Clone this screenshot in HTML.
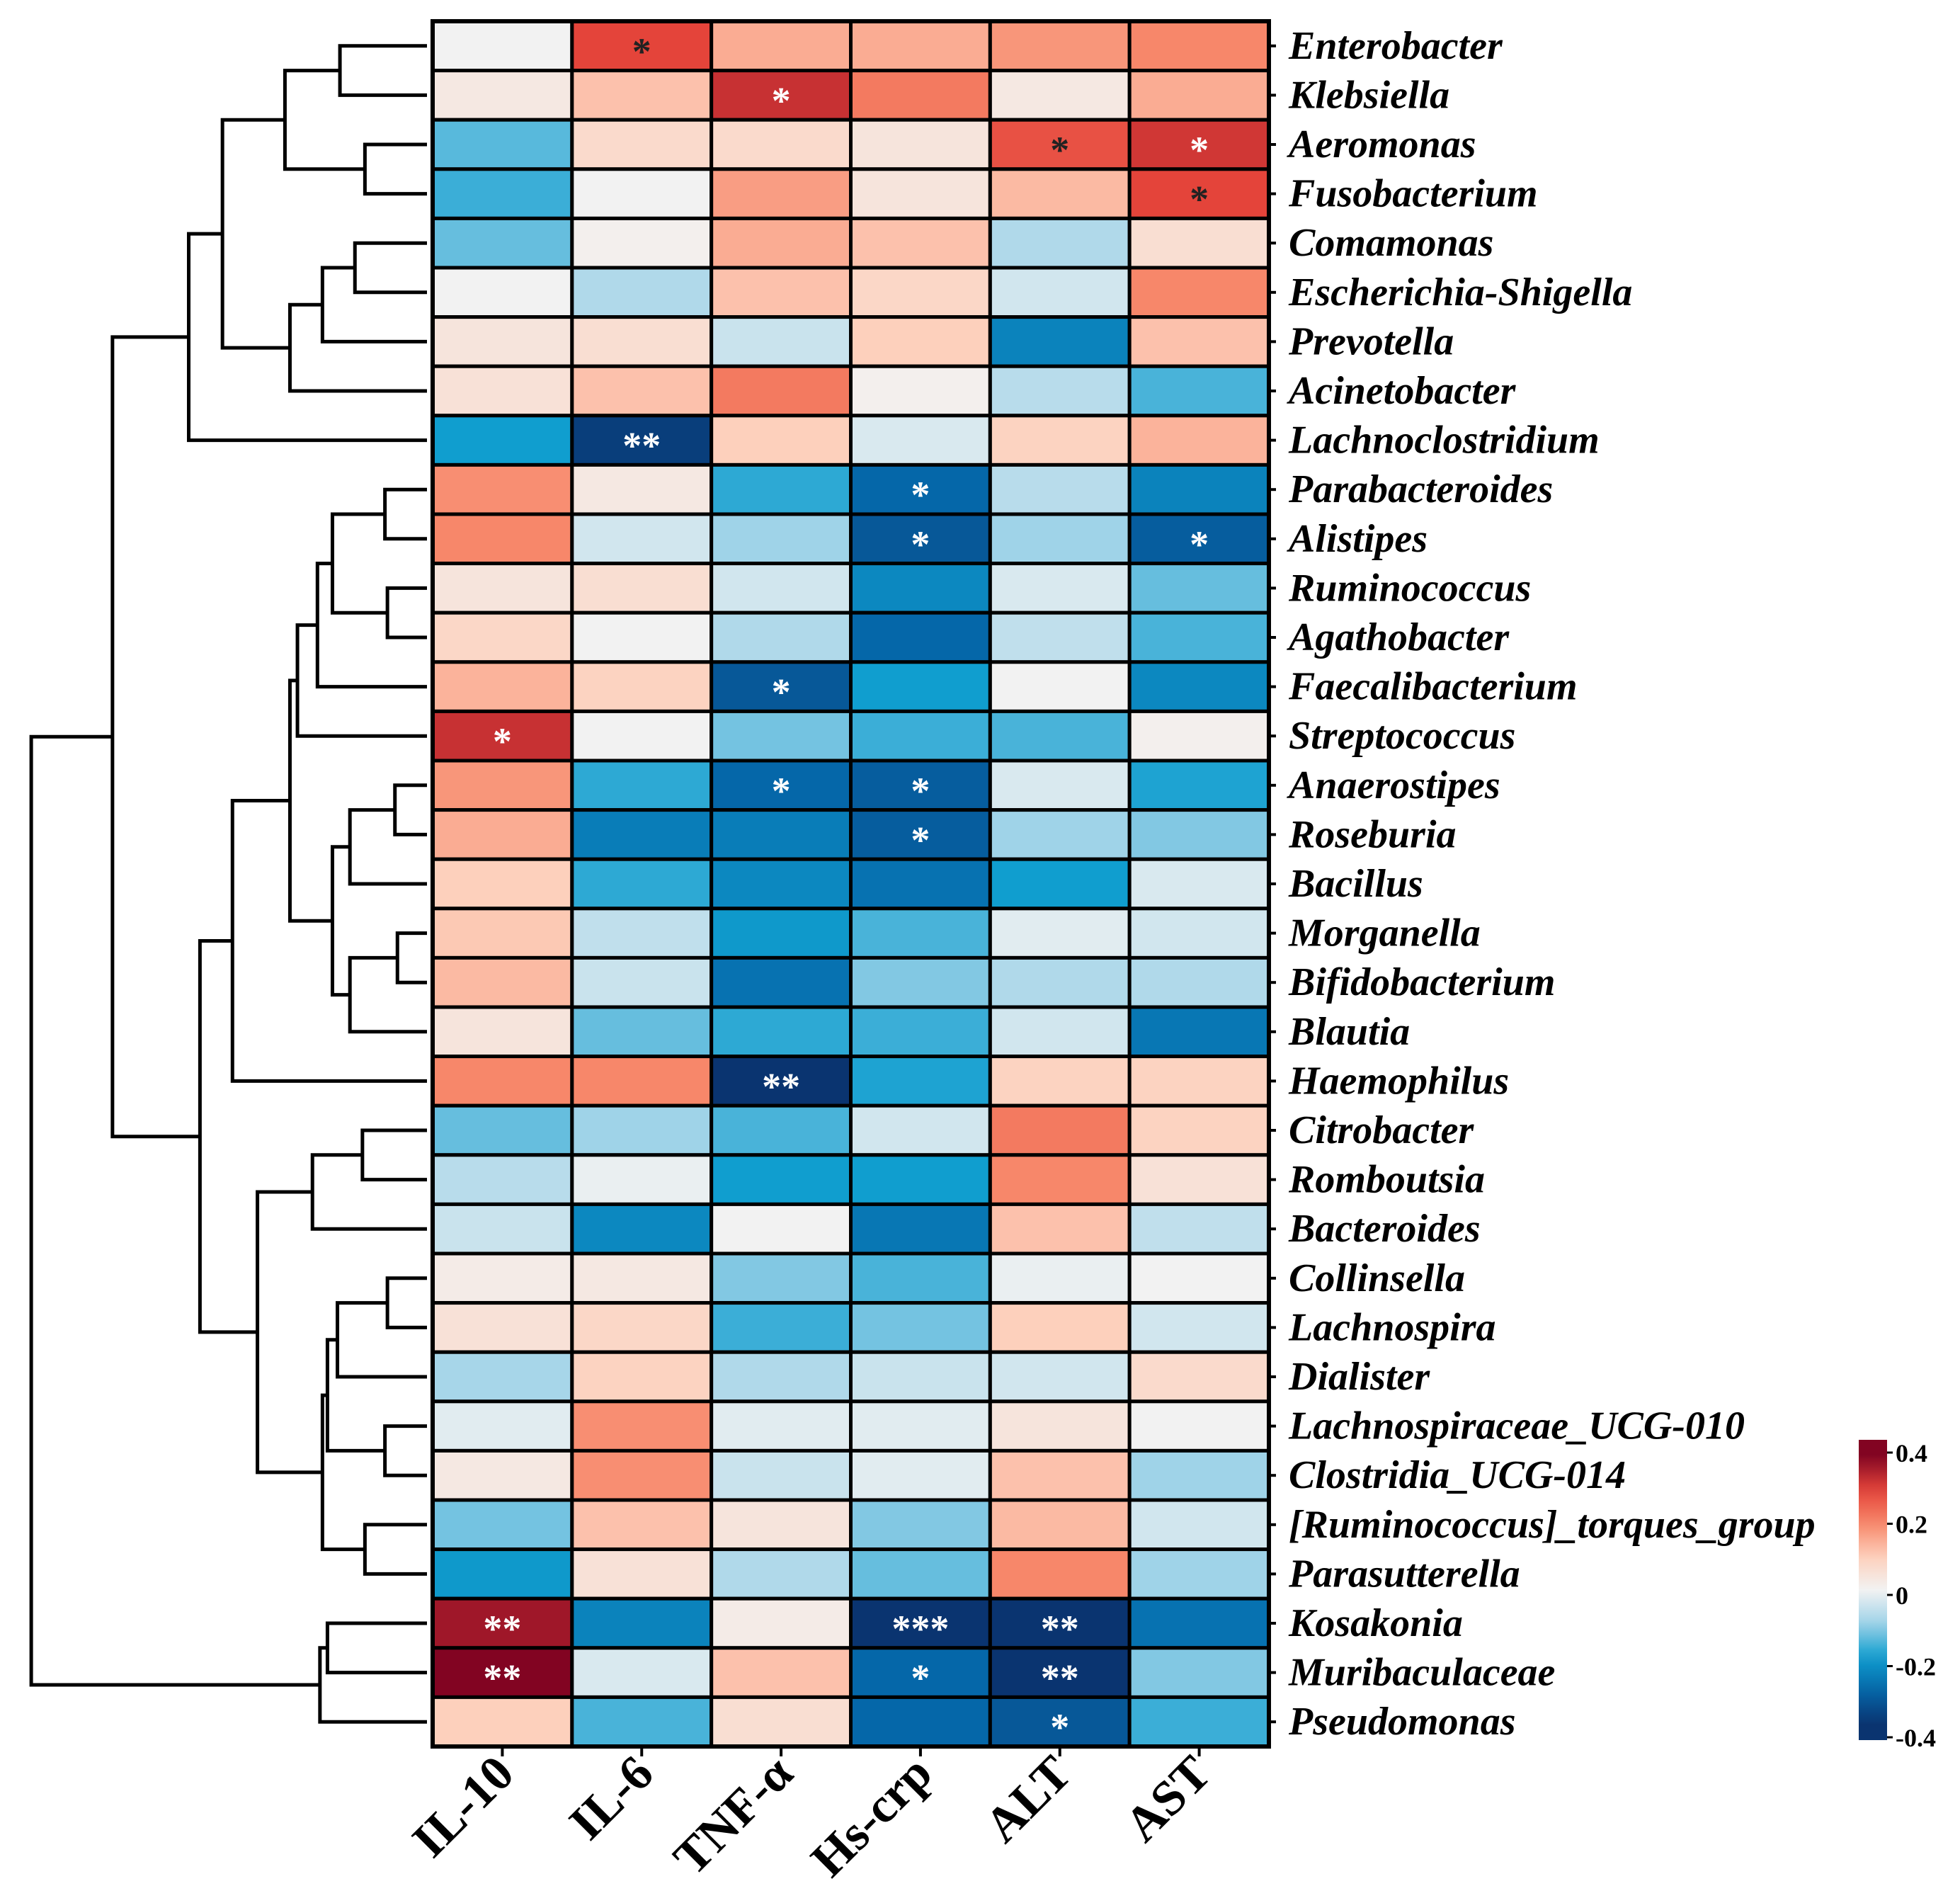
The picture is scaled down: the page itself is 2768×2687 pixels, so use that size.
<!DOCTYPE html>
<html><head><meta charset="utf-8"><style>
html,body{margin:0;padding:0;background:#fff}
svg{display:block}
text{font-family:"Liberation Serif",serif}
</style></head><body>
<svg id="chart" width="2768" height="2687" viewBox="0 0 2768 2687" xmlns="http://www.w3.org/2000/svg"></svg>
<script>
const rowLabels = ["Enterobacter","Klebsiella","Aeromonas","Fusobacterium","Comamonas","Escherichia-Shigella","Prevotella","Acinetobacter","Lachnoclostridium","Parabacteroides","Alistipes","Ruminococcus","Agathobacter","Faecalibacterium","Streptococcus","Anaerostipes","Roseburia","Bacillus","Morganella","Bifidobacterium","Blautia","Haemophilus","Citrobacter","Romboutsia","Bacteroides","Collinsella","Lachnospira","Dialister","Lachnospiraceae_UCG-010","Clostridia_UCG-014","[Ruminococcus]_torques_group","Parasutterella","Kosakonia","Muribaculaceae","Pseudomonas"];
const colLabels = ["IL-10","IL-6","TNF-α","Hs-crp","ALT","AST"];
const values = [
[0.0,0.3,0.15,0.15,0.18,0.2],
[0.03,0.12,0.33,0.22,0.03,0.15],
[-0.15,0.07,0.07,0.04,0.28,0.32],
[-0.17,0.0,0.17,0.04,0.13,0.3],
[-0.14,0.01,0.15,0.12,-0.08,0.06],
[0.0,-0.08,0.12,0.08,-0.04,0.2],
[0.04,0.06,-0.05,0.1,-0.25,0.12],
[0.05,0.12,0.22,0.01,-0.07,-0.16],
[-0.2,-0.38,0.1,-0.03,0.09,0.14],
[0.19,0.03,-0.18,-0.3,-0.07,-0.25],
[0.2,-0.04,-0.1,-0.33,-0.1,-0.32],
[0.04,0.06,-0.04,-0.24,-0.03,-0.14],
[0.08,0.0,-0.08,-0.3,-0.06,-0.16],
[0.14,0.09,-0.33,-0.2,0.0,-0.24],
[0.33,0.0,-0.13,-0.17,-0.16,0.01],
[0.18,-0.18,-0.3,-0.32,-0.03,-0.19],
[0.15,-0.26,-0.26,-0.32,-0.1,-0.12],
[0.1,-0.18,-0.24,-0.28,-0.2,-0.03],
[0.11,-0.06,-0.21,-0.16,-0.02,-0.04],
[0.13,-0.05,-0.28,-0.12,-0.08,-0.08],
[0.04,-0.14,-0.18,-0.17,-0.04,-0.27],
[0.2,0.2,-0.4,-0.19,0.09,0.09],
[-0.14,-0.1,-0.16,-0.04,0.22,0.09],
[-0.07,-0.01,-0.2,-0.2,0.2,0.05],
[-0.05,-0.24,0.0,-0.27,0.12,-0.06],
[0.02,0.03,-0.12,-0.16,-0.01,0.0],
[0.05,0.08,-0.17,-0.13,0.1,-0.04],
[-0.09,0.09,-0.08,-0.05,-0.04,0.07],
[-0.02,0.19,-0.02,-0.02,0.04,0.0],
[0.03,0.19,-0.05,-0.02,0.12,-0.1],
[-0.13,0.12,0.04,-0.12,0.13,-0.04],
[-0.21,0.05,-0.08,-0.14,0.2,-0.1],
[0.37,-0.25,0.02,-0.4,-0.4,-0.28],
[0.42,-0.03,0.12,-0.3,-0.4,-0.12],
[0.1,-0.16,0.06,-0.3,-0.33,-0.17]];
const stars = [
["","*","","","",""],["","","*","","",""],["","","","","*","*"],["","","","","","*"],
["","","","","",""],["","","","","",""],["","","","","",""],["","","","","",""],
["","**","","","",""],["","","","*","",""],["","","","*","","*"],["","","","","",""],
["","","","","",""],["","","*","","",""],["*","","","","",""],["","","*","*","",""],
["","","","*","",""],["","","","","",""],["","","","","",""],["","","","","",""],
["","","","","",""],["","","**","","",""],["","","","","",""],["","","","","",""],
["","","","","",""],["","","","","",""],["","","","","",""],["","","","","",""],
["","","","","",""],["","","","","",""],["","","","","",""],["","","","","",""],
["**","","","***","**",""],["**","","","*","**",""],["","","","","*",""]];
const darkStars = ["0,1","2,4","3,5"];
const cbTicks = [0.4,0.2,0,-0.2,-0.4];
const cbTickLabels = ["0.4","0.2","0","-0.2","-0.4"];
const merges = [
[0,1,272],[2,3,292],["m0","m1",228],[4,5,284],["m3",6,258],["m4",7,232],["m2","m5",178],["m6",8,151],
[9,10,308],[11,12,310],["m8","m9",266],["m10",13,254],["m11",14,238],
[15,16,316],["m13",17,280],[18,19,318],["m15",20,280],["m14","m16",266],["m12","m17",232],["m18",21,186],
[22,23,290],["m20",24,250],[25,26,310],["m22",27,270],[28,29,308],["m23","m24",262],[30,31,292],["m25","m26",258],["m21","m27",206],
["m19","m28",160],["m7","m29",90],[32,33,262],["m31",34,256],["m30","m32",25]];

const svg = document.getElementById('chart');
const NS = 'http://www.w3.org/2000/svg';
const L=611,R=1792,T=30,B=2466;
const nR=rowLabels.length,nC=colLabels.length;
const cw=(R-L)/nC, rh=(B-T)/nR;
const S=1.765;
const xCol=i=>L+i*cw, yRow=i=>T+i*rh;
const stops=[[-0.4,[10,52,112]],[-0.3,[5,103,169]],[-0.2,[16,158,207]],[-0.1,[159,211,232]],[0,[242,242,242]],[0.1,[253,208,188]],[0.2,[247,135,106]],[0.3,[228,68,58]],[0.4,[130,4,34]]];
function color(v){v=Math.max(-0.4,Math.min(0.4,v));
 for(let i=0;i<stops.length-1;i++){const a=stops[i],b=stops[i+1];
  if(v<=b[0]){const t=(v-a[0])/(b[0]-a[0]);const c=a[1].map((x,k)=>Math.round(x+(b[1][k]-x)*t));return 'rgb('+c.join(',')+')';}}
 return 'rgb(122,0,32)';}
function el(tag,attrs,parent){const e=document.createElementNS(NS,tag);for(const k in attrs)e.setAttribute(k,attrs[k]);(parent||svg).appendChild(e);return e;}

const gCells=el('g',{});


for(let r=0;r<nR;r++)for(let c=0;c<nC;c++){
 const rc=el('rect',{x:xCol(c),y:yRow(r),width:cw,height:rh,fill:color(values[r][c]),stroke:'#000','stroke-width':5},gCells);
 
 
}
for(let r=0;r<nR;r++)for(let c=0;c<nC;c++){
 if(stars[r][c]){
  const t=el('text',{x:xCol(c)+cw/2,y:yRow(r)+rh/2+26,'text-anchor':'middle','font-size':54,'font-weight':'bold',fill:darkStars.includes(r+','+c)?'#222':'#fff'},gCells);
  t.textContent=stars[r][c];
  
  
 }}
el('rect',{x:L,y:T,width:R-L,height:B-T,fill:'none',stroke:'#000','stroke-width':6});

for(let r=0;r<nR;r++){
 const y=yRow(r)+rh/2;
 el('line',{x1:R,x2:R+10,y1:y,y2:y,stroke:'#000','stroke-width':4});
 const t=el('text',{x:R+28,y:y+18,'font-size':56,'font-weight':'bold','font-style':'italic',fill:'#000'});
 t.textContent=rowLabels[r];
 
 
}
for(let c=0;c<nC;c++){
 const x=xCol(c)+cw/2;
 el('line',{x1:x,x2:x,y1:B,y2:B+14,stroke:'#000','stroke-width':4});
 const t=el('text',{x:x+20,y:B+42,'font-size':70,'font-weight':'bold','text-anchor':'end',transform:'rotate(-45 '+(x+20)+' '+(B+42)+')',fill:'#000'});
 t.textContent=colLabels[c];
 
 
}

const nodes={};
const leafEnd=603;
const gD=el('g',{fill:'none',stroke:'#000','stroke-width':5});


function node(id){if(typeof id==='number')return {x:leafEnd,y:yRow(id)+rh/2};return nodes[id];}
merges.forEach((m,i)=>{
 const a=node(m[0]),b=node(m[1]),x=m[2]*S;
 el('path',{d:'M'+a.x+','+a.y+'H'+x+'V'+b.y+'H'+b.x},gD);
 nodes['m'+i]={x:x,y:(a.y+b.y)/2};
});

const cbX=2625,cbW=40,cbT=2033,cbB=2457;
const v2y=v=>2051+(0.4-v)/0.8*(2453-2051);
const defs=el('defs',{});
const grad=el('linearGradient',{id:'cbg',x1:0,y1:0,x2:0,y2:1},defs);
for(let i=0;i<=20;i++){const v=0.45-i*0.9/20;el('stop',{offset:i/20,'stop-color':color(v)},grad);}
const cb=el('rect',{x:cbX,y:cbT,width:cbW,height:cbB-cbT,fill:'url(#cbg)'});


cbTicks.forEach((v,i)=>{const y=v2y(v);
 el('line',{x1:cbX+cbW,x2:cbX+cbW+8,y1:y,y2:y,stroke:'#000','stroke-width':3});
 const t=el('text',{x:cbX+cbW+12,y:y+13,'font-size':36,'font-weight':'bold',fill:'#000'});
 t.textContent=cbTickLabels[i];
 
 
});
</script>
</body></html>
